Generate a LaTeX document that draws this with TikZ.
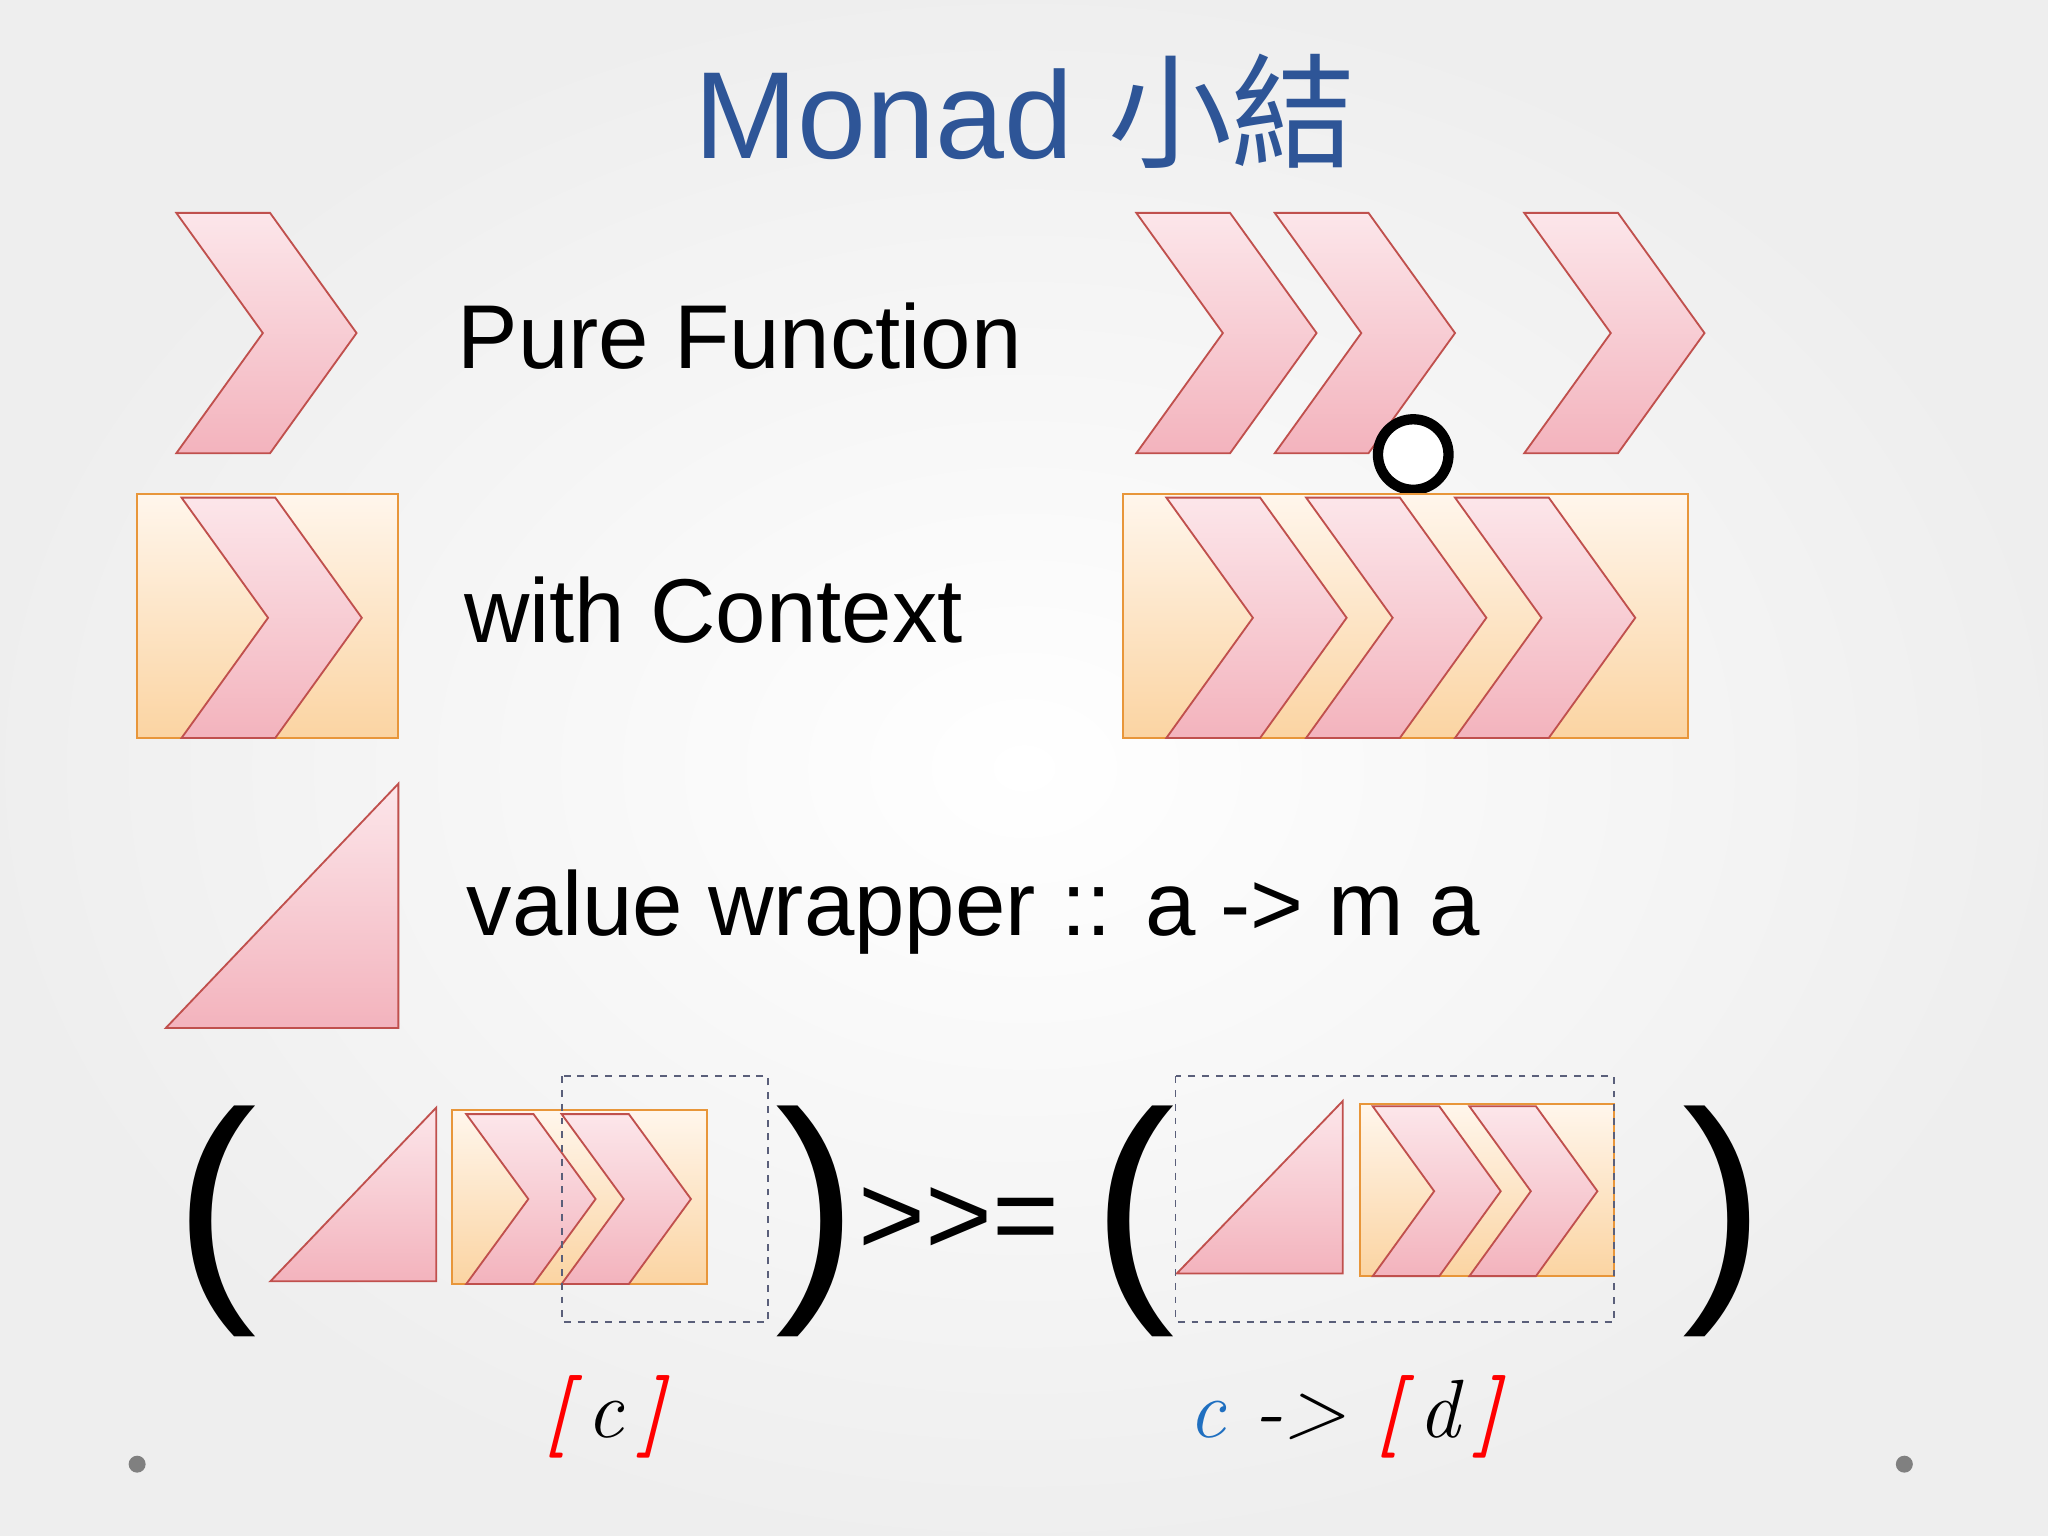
\documentclass[tikz,border=0pt]{standalone}
\usepackage{fontspec}
\setmainfont{Liberation Sans}
\newfontfamily\cjk{Noto Sans CJK TC}
\newfontfamily\lmi{Latin Modern Roman}
\definecolor{titleblue}{HTML}{2E5597}
\definecolor{chevline}{HTML}{C0504D}
\definecolor{pinktop}{HTML}{FCE6EA}
\definecolor{pinkbot}{HTML}{F3B3BD}
\definecolor{ctxline}{HTML}{E8963A}
\definecolor{ctxtop}{HTML}{FFF6EC}
\definecolor{ctxbot}{HTML}{FBD4A2}
\definecolor{dashc}{HTML}{5A5F7A}
\definecolor{labblue}{HTML}{1F6FC0}
\tikzset{
  chev/.style={draw=chevline,line width=0.8pt,top color=pinktop,bottom color=pinkbot},
  ctx/.style={draw=ctxline,line width=0.9pt,top color=ctxtop,bottom color=ctxbot},
  dbox/.style={draw=dashc,dashed,line width=0.8pt},
  txt/.style={font=\fontsize{39.5}{42}\selectfont,anchor=west,inner sep=0pt},
  par/.style={font=\fontsize{108}{110}\selectfont,inner sep=0pt},
}
\newcommand{\chevr}[5]{\path[chev] (#1,#2) -- ++(0.52*#3,0) -- ++(0.48*#3,#4/2) -- ++(-0.48*#3,#4/2) -- ++(-0.52*#3,0) -- ++(0.48*#3,-#4/2) -- cycle coordinate (#5) at (#1,#2);}
\begin{document}
\begin{tikzpicture}[x=0.02cm,y=-0.02cm]
\shade[inner color=white,outer color=gray!13] (0,0) rectangle (1568,1176);
\useasboundingbox (0,0) rectangle (1568,1176);
\node[inner sep=0pt,text=titleblue,font=\fontsize{54}{56}\selectfont] (title) at (785,85) {Monad {\cjk 小結}};
% row 1
\chevr{135}{163}{138}{184}{c1}
\node[txt] (t1) at (350,257) {Pure Function};
\chevr{870}{163}{138}{184}{c2}
\chevr{976}{163}{138}{184}{c3}
\chevr{1167}{163}{138}{184}{c4}
\draw[line width=4.5pt,fill=white] (1082,348) circle (27);
\node[inner sep=0pt] (comp) at (1082,348) {};
% row 2
\path[ctx] (105,378) rectangle (305,565);
\chevr{139}{381}{138}{184}{c5}
\node[txt] (t2) at (355,467) {with Context};
\path[ctx] (860,378) rectangle (1292,565);
\chevr{893}{381}{138}{184}{c6}
\chevr{1000}{381}{138}{184}{c7}
\chevr{1114}{381}{138}{184}{c8}
% row 3
\path[chev] (127,787) -- (305,600) -- (305,787) -- cycle;
\node[txt] (t3) at (357,698) {value wrapper :: a -> m a};
% bottom
\node[par] (p1) at (165,935) {(};
\path[chev] (207,981) -- (334,848) -- (334,981) -- cycle;
\path[ctx] (346,850) rectangle (541,983);
\chevr{357}{853}{99}{130}{c9}
\chevr{430}{853}{99}{130}{c10}
\draw[dbox] (430,824) rectangle (588,1012);
\node[par] (p2) at (625,935) {)};
\node[inner sep=0pt,font=\fontsize{50}{52}\selectfont] (bind) at (734,935) {{>}{>}=};
\node[par] (p3) at (868,935) {(};
\path[chev] (901,975) -- (1028,843) -- (1028,975) -- cycle;
\path[ctx] (1041,845) rectangle (1236,977);
\chevr{1051}{847}{98}{130}{c11}
\chevr{1125}{847}{98}{130}{c12}
\draw[dbox] (900,824) rectangle (1236,1012);
\node[par] (p4) at (1320,935) {)};
\node[inner sep=0pt,font=\lmi\itshape\fontsize{36}{38}\selectfont] (l1) at (463,1085) {\textcolor{red}{\textbf{[}}\,c\,\textcolor{red}{\textbf{]}}};
\node[inner sep=0pt,font=\lmi\itshape\fontsize{36}{38}\selectfont] (l2) at (1030,1085) {\textcolor{labblue}{c} {-}{>} \textcolor{red}{\textbf{[}}\,d\,\textcolor{red}{\textbf{]}}};
\fill[gray] (105,1121) circle (6.5);
\fill[gray] (1458,1121) circle (6.5);
\end{tikzpicture}
\end{document}
